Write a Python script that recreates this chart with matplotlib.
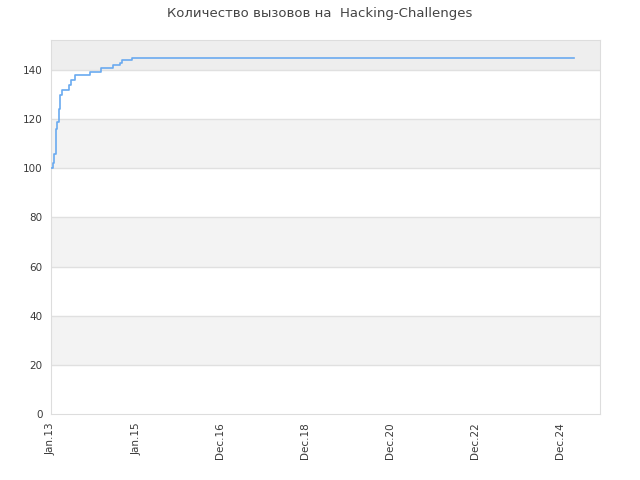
import numpy as np
import matplotlib.pyplot as plt

# months since Jan 2013 -> count of challenges (step data)
months = [0, 0.2, 0.5, 0.85, 1.4, 1.8, 2.3, 2.5, 3.0, 5.1, 5.5, 6.7, 11.0, 14.0, 17.3, 19.4, 19.9, 22.7, 147]
values = [100, 100, 102, 106, 116, 119, 124, 130, 132, 134, 136, 138, 139, 141, 142, 143, 144, 145, 145]

tick_pos = [0, 23.9, 47.5, 71.3, 95.2, 119.1, 143]
tick_labels = ['Jan.13', 'Jan.15', 'Dec.16', 'Dec.18', 'Dec.20', 'Dec.22', 'Dec.24']
y_ticks = [0, 20, 40, 60, 80, 100, 120, 140]

fig = plt.figure(figsize=(6.4, 4.8), dpi=100)
ax = fig.add_axes([0.0797, 0.1375, 0.8578, 0.7792])

ymax = 152.2
for lo in (20, 60, 100):
    ax.axhspan(lo, lo + 20, color='#f3f3f3', zorder=0, lw=0)
ax.axhspan(140, ymax, color='#eeeeee', zorder=0, lw=0)
for y in y_ticks[1:]:
    ax.axhline(y, color='#e0e0e0', lw=1, zorder=1)

ax.step(months, values, where='post', color='#6aaaf0', lw=1.2, zorder=3)

ax.set_xlim(0, 154.2)
ax.set_ylim(0, ymax)
ax.set_xticks(tick_pos)
ax.set_xticklabels(tick_labels, rotation=90)
ax.set_yticks(y_ticks)
ax.tick_params(length=0, labelsize=7.5, colors='#3a3a3a', pad=6)
for s in ax.spines.values():
    s.set_color('#dddddd')

fig.suptitle('Количество вызовов на  Hacking-Challenges', y=0.985, fontsize=9.5, color='#444444')
fig.savefig('out.png', dpi=100)
